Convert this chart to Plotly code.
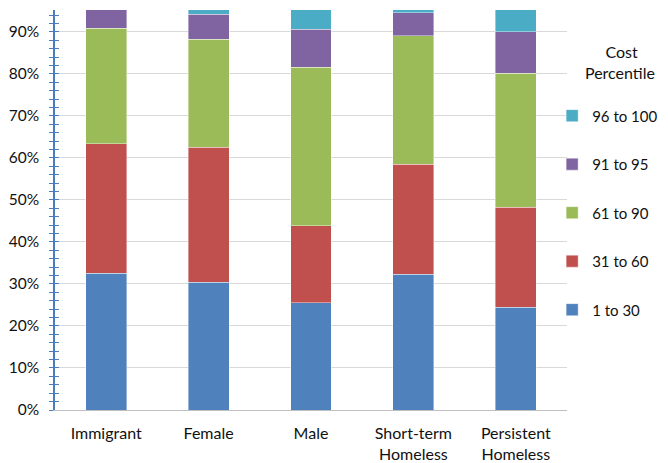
import plotly.graph_objects as go

categories = ["Immigrant", "Female", "Male", "Short-term<br>Homeless", "Persistent<br>Homeless"]
series_names = ["1 to 30", "31 to 60", "61 to 90", "91 to 95", "96 to 100"]
s_1_30 = [0.326, 0.304, 0.255, 0.323, 0.245]
s_31_60 = [0.308, 0.321, 0.183, 0.262, 0.237]
s_61_90 = [0.274, 0.257, 0.378, 0.306, 0.319]
s_91_95 = [0.050, 0.060, 0.090, 0.054, 0.099]
s_96_100 = [0.042, 0.058, 0.094, 0.055, 0.100]
series_values = [s_1_30, s_31_60, s_61_90, s_91_95, s_96_100]
colors = ["#4f81bd", "#c0504d", "#9bbb59", "#8064a2", "#4bacc6"]
tick_vals = [0, 0.1, 0.2, 0.3, 0.4, 0.5, 0.6, 0.7, 0.8, 0.9]

FONT = "Lato, Carlito, Calibri, sans-serif"

fig = go.Figure()
for i, (name, vals, col) in enumerate(zip(series_names, series_values, colors)):
    fig.add_trace(go.Bar(
        x=categories, y=vals, name=name, legendgroup=name,
        legendrank=1000 - i,
        marker=dict(color=col, line=dict(color="rgba(255,255,255,0.5)", width=0.8)),
    ))

# invisible overlay axis to get ticks crossing the axis line
fig.add_trace(go.Scatter(x=[None], y=[None], yaxis="y2", showlegend=False, hoverinfo="skip"))

axis_blue = "#4a7ebb"
NB = "&nbsp;"
fig.update_layout(
    width=660, height=455,
    margin=dict(l=47, r=101, t=2, b=53, autoexpand=False),
    barmode="stack", bargap=0.6,
    plot_bgcolor="white", paper_bgcolor="white",
    font=dict(family=FONT, size=16, color="#111111"),
    xaxis=dict(
        showgrid=False, showline=True, linecolor="#bfbfbf", linewidth=1,
        ticks="", tickfont=dict(size=16), ticklabelstandoff=9,
    ),
    yaxis=dict(
        range=[0, 0.952], tickvals=tick_vals, tickformat=".0%",
        showgrid=True, gridcolor="#d9d9d9", gridwidth=1,
        showline=True, linecolor=axis_blue, linewidth=1.5,
        ticks="outside", ticklen=4, tickcolor=axis_blue, tickwidth=1,
        minor=dict(dtick=0.02, tick0=0, ticks="outside", ticklen=4, tickcolor=axis_blue, showgrid=False),
        tickfont=dict(size=15.5), ticklabelstandoff=7, zeroline=False,
    ),
    yaxis2=dict(
        overlaying="y", side="left", range=[0, 0.952], dtick=0.02, tick0=0,
        showgrid=False, showticklabels=False, ticks="inside", ticklen=4,
        tickcolor=axis_blue, tickwidth=1, showline=False, zeroline=False,
    ),
    legend=dict(
        title=dict(text=NB * 11 + "Cost<br>" + NB * 6 + "Percentile<br> ",
                   side="top center", font=dict(size=16)),
        x=0.971, xanchor="left", y=0.9325, yanchor="top",
        traceorder="grouped", tracegroupgap=26,
        font=dict(size=15), bgcolor="rgba(0,0,0,0)",
    ),
    showlegend=True,
)

fig.write_html("out.html")
